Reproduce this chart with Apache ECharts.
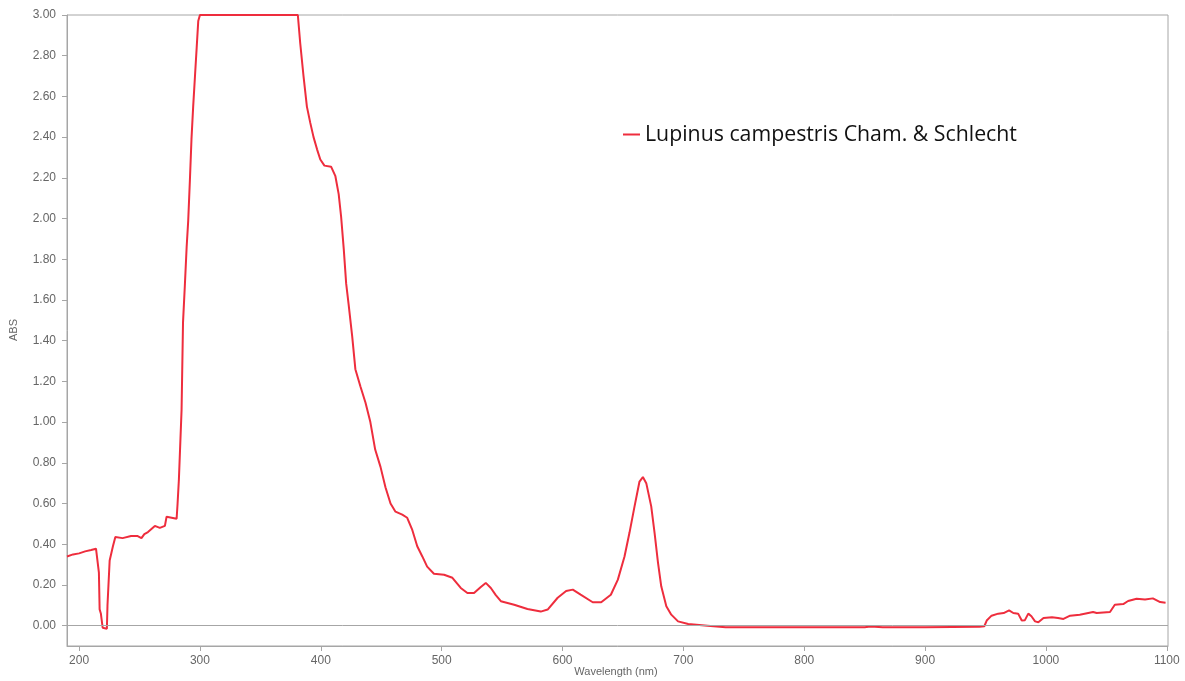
<!DOCTYPE html>
<html>
<head>
<meta charset="utf-8">
<script src="https://cdn.jsdelivr.net/npm/echarts@6/dist/echarts.min.js"></script>
<style>
html,body{margin:0;padding:0;background:#fff;}
#chart{width:1185px;height:681px;}
</style>
</head>
<body>
<div id="chart"></div>
<script>
const seriesName = 'Lupinus campestris Cham. & Schlecht';
const xAxisTitle = 'Wavelength (nm)';
const yAxisTitle = 'ABS';
const wavelength = [190,195,200,205,210,214,215.5,216.4,217,218,219.5,223,223.5,225.3,228,230,236,243,248.5,251.6,254,257,262.7,266.8,271,272.4,280.7,281.5,282.6,284.8,286,287.5,289,290.3,291.7,293,294.4,295.9,297.3,298.6,300,381,383,385.7,388.5,391.3,394,396.9,399.6,403,408.5,412,414.8,416.8,419,421,423,426,428.6,432.8,437,441,445,449.4,453.5,457.7,461.8,467.4,471.5,475.7,479.8,484,488,493.6,502,508.9,515.8,521.3,526.8,532.4,536.5,540.7,544.8,549,560,571,582,587.7,596,603,608.5,615,625,632,640,645.8,651.3,655.4,659.6,663.7,666.5,669.3,673.4,676.2,679,681.7,685.9,690,695.6,704,720,735,800,850,855,865,900,945,949,951,955,960.5,965,969.5,973,977,980,982.6,985.4,988,991,993.7,998,1005,1010,1014.5,1020,1028,1039,1042,1053,1057,1064,1068,1075,1082,1088.5,1094.5,1099];
const absorbance = [0.34,0.35,0.355,0.365,0.372,0.378,0.375,0.26,0.08,0.06,-0.01,-0.015,0.1,0.32,0.39,0.435,0.43,0.44,0.44,0.43,0.45,0.46,0.49,0.48,0.49,0.535,0.525,0.60,0.72,1.06,1.49,1.67,1.86,1.99,2.19,2.39,2.55,2.70,2.84,2.97,3.0,3.0,2.86,2.70,2.55,2.47,2.40,2.34,2.29,2.26,2.255,2.21,2.12,2.01,1.85,1.68,1.58,1.42,1.26,1.175,1.095,1.0,0.865,0.78,0.68,0.60,0.56,0.545,0.53,0.47,0.39,0.34,0.29,0.255,0.25,0.235,0.185,0.16,0.16,0.19,0.21,0.185,0.15,0.12,0.103,0.082,0.069,0.079,0.137,0.17,0.177,0.152,0.115,0.115,0.152,0.226,0.34,0.456,0.586,0.708,0.73,0.70,0.586,0.455,0.31,0.193,0.095,0.054,0.021,0.008,0.0,-0.008,-0.008,-0.008,-0.004,-0.008,-0.008,-0.006,-0.003,0.025,0.049,0.059,0.062,0.075,0.062,0.059,0.025,0.027,0.059,0.046,0.021,0.017,0.038,0.041,0.038,0.033,0.049,0.054,0.067,0.062,0.067,0.103,0.106,0.121,0.132,0.128,0.134,0.116,0.113];
const xTicks = [200,300,400,500,600,700,800,900,1000,1100];
const yTicks = [0,0.2,0.4,0.6,0.8,1.0,1.2,1.4,1.6,1.8,2.0,2.2,2.4,2.6,2.8,3.0];

const chart = echarts.init(document.getElementById('chart'), null, {renderer:'canvas'});
const data = wavelength.map((w,i)=>[w, absorbance[i]]);
const axisGray = '#a6a6a6';
const labelColor = '#666';
chart.setOption({
  animation:false,
  backgroundColor:'#fff',
  grid:{left:67,right:17,top:15,bottom:35,show:true,borderColor:axisGray,borderWidth:1,
        containLabel:false, outerBoundsMode:'none'},
  legend:{
    data:[seriesName],
    left:618, top:119,
    itemWidth:17, itemHeight:2, icon:'rect',
    textStyle:{fontFamily:'Open Sans', fontSize:21.3, color:'#111'},
    itemGap:4
  },
  graphic:[
    {type:'text', x:616, y:672, silent:true,
     style:{text:xAxisTitle, fill:labelColor, font:'11px "Liberation Sans"', align:'center', verticalAlign:'middle'}},
    {type:'text', x:14, y:330, rotation:Math.PI/2, silent:true,
     style:{text:yAxisTitle, fill:labelColor, font:'11px "Liberation Sans"', align:'center', verticalAlign:'middle'}}
  ],
  xAxis:{
    type:'value', min:190, max:1101,
    axisLine:{show:true,onZero:false,lineStyle:{color:axisGray}},
    axisTick:{show:true,length:5,lineStyle:{color:axisGray},customValues:xTicks},
    axisLabel:{customValues:xTicks, fontFamily:'Liberation Sans', fontSize:12, color:labelColor, margin:9,
      formatter:v=>String(v)},
    splitLine:{show:false}
  },
  yAxis:{
    type:'value', min:-0.1, max:3.0,
    axisLine:{show:true,onZero:false,lineStyle:{color:axisGray}},
    axisTick:{show:true,length:5,lineStyle:{color:axisGray},customValues:yTicks},
    axisLabel:{customValues:yTicks, fontFamily:'Liberation Sans', fontSize:12, color:labelColor, margin:11,
      formatter:v=>v.toFixed(2)},
    splitLine:{show:false}
  },
  series:[{
    name:seriesName, type:'line', data:data, showSymbol:false, symbol:'none',
    color:'#ee2d3d', lineStyle:{width:2, color:'#ee2d3d'},
    markLine:{silent:true, symbol:['none','none'], label:{show:false},
      lineStyle:{color:'#a6a6a6', type:'solid', width:1},
      data:[{yAxis:0}]}
  }]
});
</script>
</body>
</html>
